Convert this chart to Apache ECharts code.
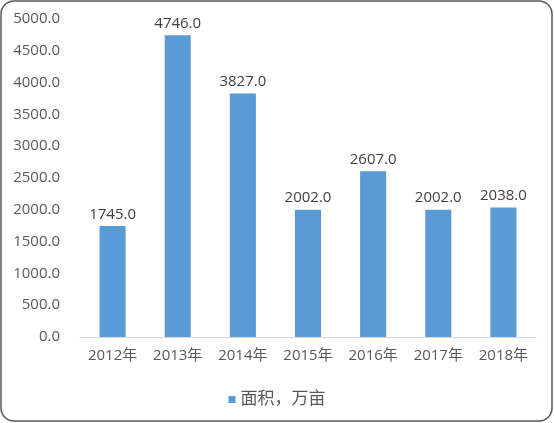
<!DOCTYPE html>
<html>
<head>
<meta charset="utf-8">
<script src="https://cdn.jsdelivr.net/npm/echarts@6/dist/echarts.min.js"></script>
<style>
  html, body { margin: 0; padding: 0; background: #fff; }
  #main { width: 554px; height: 423px; }
</style>
</head>
<body>
<div id="main"></div>
<script>
const years = ['2012年', '2013年', '2014年', '2015年', '2016年', '2017年', '2018年']
const area = [1745.0, 4746.0, 3827.0, 2002.0, 2607.0, 2002.0, 2038.0]
const seriesName = '面积，万亩'

const FONT = '"Open Sans", "Noto Sans CJK SC", sans-serif'

const chart = echarts.init(document.getElementById('main'))
chart.setOption({
  animation: false,
  backgroundColor: '#fff',
  textStyle: { fontFamily: FONT },
  // 外框：圆角矩形
  graphic: [{
    type: 'rect',
    shape: { x: 1, y: 1, width: 551, height: 420, r: 13 },
    style: { fill: 'none', stroke: '#595959', lineWidth: 1.5 },
    silent: true
  }],
  grid: { left: 80, right: 18, top: 19, bottom: 86 },
  legend: {
    top: 386,
    left: 'center',
    itemWidth: 7,
    itemHeight: 7,
    itemGap: 6,
    icon: 'rect',
    textStyle: { fontSize: 17, color: '#595959', fontFamily: FONT }
  },
  xAxis: {
    type: 'category',
    data: years,
    axisLine: { lineStyle: { color: '#d9d9d9', width: 1 } },
    axisTick: { show: false },
    axisLabel: { fontSize: 15, color: '#595959', margin: 11 }
  },
  yAxis: {
    type: 'value',
    min: 0,
    max: 5000,
    interval: 500,
    splitLine: { show: false },
    axisLine: { show: false },
    axisTick: { show: false },
    axisLabel: {
      fontSize: 15,
      color: '#595959',
      margin: 20,
      formatter: v => v.toFixed(1)
    }
  },
  series: [{
    name: seriesName,
    type: 'bar',
    data: area,
    barWidth: '40%',
    itemStyle: { color: '#5b9bd5' },
    label: {
      show: true,
      position: 'top',
      distance: 4,
      fontSize: 15,
      color: '#404040',
      formatter: p => p.value.toFixed(1)
    }
  }]
})
</script>
</body>
</html>
